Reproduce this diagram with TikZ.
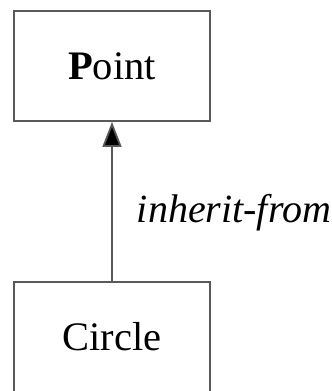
\documentclass[tikz,border=0pt]{standalone}
\usepackage{fontspec}
\setmainfont{Liberation Serif}
\usetikzlibrary{arrows.meta,positioning}

\begin{document}
\begin{tikzpicture}[x=1pt,y=1pt,
        classbox/.style={draw=black!65, line width=1.8pt, minimum width=196pt, minimum height=110pt, inner sep=0pt, font=\fontsize{40.5}{44}\selectfont},
        inherit/.style={draw=black!65, line width=1.8pt, -{Triangle[length=25pt,width=19pt,fill=black]}}]
        \useasboundingbox (0,0) rectangle (332,391);
        \node [classbox] (point) at (112,325) {\textbf{P}oint};
        \node [classbox] (circle) at (112,54) {Circle};
        \draw [inherit] (circle.north) -- node [pos=0.43, right=24pt, inner sep=0pt, font=\fontsize{40}{44}\selectfont\itshape] (lbl) {inherit-from} (point.south);
\end{tikzpicture}
\end{document}
